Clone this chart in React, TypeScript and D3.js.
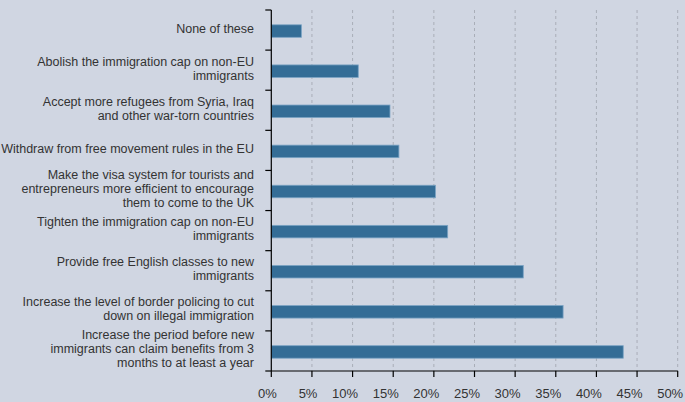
import React from "react";
import * as d3 from "d3";

const categories: string[] = [
  "None of these",
  "Abolish the immigration cap on non-EU\nimmigrants",
  "Accept more refugees from Syria, Iraq\nand other war-torn countries",
  "Withdraw from free movement rules in the EU",
  "Make the visa system for tourists and\nentrepreneurs more efficient to encourage\nthem to come to the UK",
  "Tighten the immigration cap on non-EU\nimmigrants",
  "Provide free English classes to new\nimmigrants",
  "Increase the level of border policing to cut\ndown on illegal immigration",
  "Increase the period before new\nimmigrants can claim benefits from 3\nmonths to at least a year",
];
const values: number[] = [3.7, 10.7, 14.6, 15.7, 20.2, 21.7, 31.0, 35.9, 43.3];
const xTicks: number[] = [0, 5, 10, 15, 20, 25, 30, 35, 40, 45, 50];

const W = 685;
const H = 402;
const BG = "#d0d6e2";
const BAR = "#346d96";
const BAR_STROKE = "#7aa3c4";
const TEXT = "#333333";
const FONT = "'Liberation Sans', Arial, Helvetica, sans-serif";

export default function App() {
  const x = d3.scaleLinear().domain([0, 50]).range([271.3, 677.7]);
  const y = d3.scaleBand<number>().domain(categories.map((_, i) => i)).range([10, 371]).padding(0);
  const step = y.step();
  const barH = 12.5;
  const boundaries = d3.range(categories.length + 1).map((i) => 10 + i * step);
  const lh = 14;

  return (
    <div style={{ position: "fixed", left: 0, top: 0, width: W, height: H, background: BG }}>
      <svg width={W} height={H} style={{ display: "block" }} fontFamily={FONT}>
        <rect x={0} y={0} width={W} height={H} fill={BG} />
        {/* gridlines */}
        {xTicks.filter((t) => t > 0).map((t) => (
          <line key={"g" + t} x1={x(t)} x2={x(t)} y1={10} y2={371} stroke="#a9aeb8" strokeWidth={1} strokeDasharray="3,3" />
        ))}
        {/* bars */}
        {values.map((v, i) => {
          const cy = (y(i) as number) + step / 2 + 1;
          return (
            <rect key={"b" + i} x={x(0)} y={cy - barH / 2} width={x(v) - x(0)} height={barH} fill={BAR} stroke={BAR_STROKE} strokeWidth={0.8} />
          );
        })}
        {/* y axis */}
        <line x1={x(0)} x2={x(0)} y1={10} y2={371} stroke="#000" strokeWidth={1.2} />
        {boundaries.map((b, i) => (
          <line key={"yt" + i} x1={x(0) - 6} x2={x(0)} y1={b} y2={b} stroke="#000" strokeWidth={1.2} />
        ))}
        {/* x axis */}
        <line x1={x(0)} x2={x(50)} y1={371} y2={371} stroke="#000" strokeWidth={1.2} />
        {xTicks.map((t) => (
          <g key={"xt" + t}>
            <line x1={x(t)} x2={x(t)} y1={371} y2={377} stroke="#000" strokeWidth={1.2} />
            <text x={x(t) + 5.5} y={397.5} textAnchor="end" fontSize={13} fill={TEXT}>
              {t + "%"}
            </text>
          </g>
        ))}
        {/* category labels */}
        {categories.map((c, i) => {
          const lines = c.split("\n");
          const cy = (y(i) as number) + step / 2 - 2;
          return (
            <text key={"c" + i} textAnchor="end" fontSize={12.5} fill={TEXT}>
              {lines.map((ln, j) => (
                <tspan key={j} x={254} y={cy + (j - (lines.length - 1) / 2) * lh + 4.5}>
                  {ln}
                </tspan>
              ))}
            </text>
          );
        })}
      </svg>
    </div>
  );
}
